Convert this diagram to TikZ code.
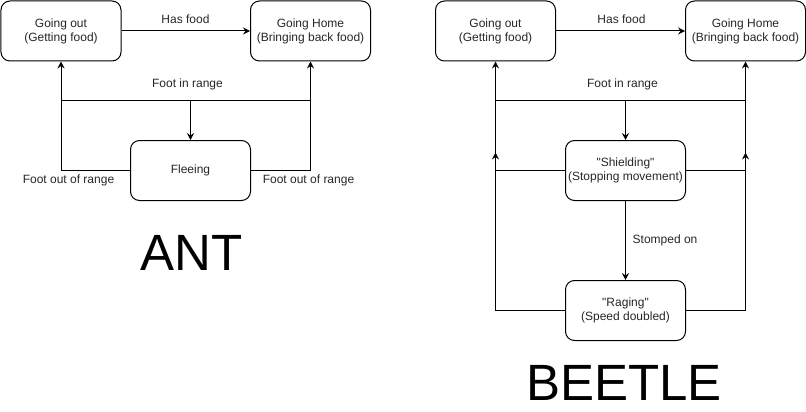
\documentclass[tikz,border=0pt]{standalone}
\usepackage{fontspec}
\setmainfont{Liberation Sans}
\usetikzlibrary{arrows.meta}
\begin{document}
\begin{tikzpicture}[x=1pt,y=-1pt,
  state/.style={draw, line width=1pt, rounded corners=9pt, minimum width=120pt, minimum height=60pt,
    align=center, inner sep=0pt, text=black!85, font=\fontsize{12}{14}\selectfont},
  lbl/.style={text=black!85, font=\fontsize{12}{14}\selectfont, inner sep=0pt},
  big/.style={font=\fontsize{51}{56}\selectfont, inner sep=0pt},
  conn/.style={line width=1pt},
  arr/.style={line width=1pt, -{Stealth[length=7pt,width=7pt,inset=2.5pt]}}]
\useasboundingbox (-0.5,-0.5) rectangle (805.5,411.5);
% ---------------- ANT ----------------
\node[state] (ago) at (60.5,30.5) {Going out\\(Getting food)};
\node[state] (agh) at (310,30.5) {Going Home\\(Bringing back food)};
\node[state] (afl) at (190,170) {Fleeing};
\draw[arr] (ago.east) -- (agh.west);
\node[lbl] (ahf) at (185,19) {Has food};
\coordinate (alj) at (60.5,100);
\coordinate (arj) at (310,100);
\coordinate (amj) at (190,100);
\draw[conn] (alj) -- (arj);
\draw[arr] (amj) -- (afl.north);
\node[lbl] (afir) at (187,84) {Foot in range};
\draw[arr] (afl.west) -| (ago.south);
\draw[arr] (afl.east) -| (agh.south);
\node[lbl] (afo1) at (68,180) {Foot out of range};
\node[lbl] (afo2) at (308,180) {Foot out of range};
\node[big] (ant) at (191,252) {ANT};
% ---------------- BEETLE ----------------
\node[state] (bgo) at (495,30.5) {Going out\\(Getting food)};
\node[state] (bgh) at (745,30.5) {Going Home\\(Bringing back food)};
\node[state] (bsh) at (625,170) {\textquotedbl Shielding\textquotedbl\\(Stopping movement)};
\node[state] (bra) at (625,310) {\textquotedbl Raging\textquotedbl\\(Speed doubled)};
\draw[arr] (bgo.east) -- (bgh.west);
\node[lbl] (bhf) at (621,19) {Has food};
\coordinate (blj) at (495,100);
\coordinate (brj) at (745,100);
\coordinate (bmj) at (625,100);
\draw[conn] (blj) -- (brj);
\draw[arr] (bmj) -- (bsh.north);
\node[lbl] (bfir) at (622,84) {Foot in range};
\draw[arr] (bsh.west) -| (bgo.south);
\draw[arr] (bsh.east) -| (bgh.south);
\coordinate (bla) at (495,152);
\coordinate (bra2) at (745,152);
\draw[arr] (bra.west) -| (bla);
\draw[arr] (bra.east) -| (bra2);
\draw[arr] (bsh.south) -- (bra.north);
\node[lbl, anchor=west] (bst) at (632,240) {Stomped on};
\node[big] (beetle) at (623.5,382) {BEETLE};
\end{tikzpicture}
\end{document}
